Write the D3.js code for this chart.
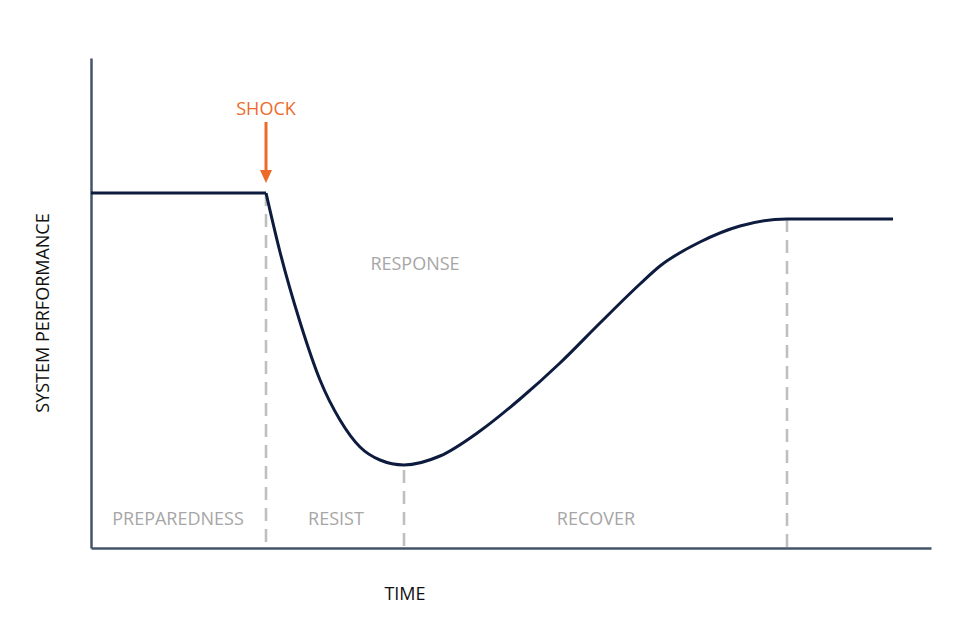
<!DOCTYPE html>
<html><head><meta charset="utf-8">
<script src="https://cdn.jsdelivr.net/npm/d3@7"></script>
<style>body{margin:0;background:#fff}text{font-family:"Open Sans",sans-serif}</style>
</head><body>
<svg id="c" width="978" height="644"></svg>
<script>
// time units (arbitrary), performance units (arbitrary)
const flatBefore = [[0,35.5],[17.5,35.5]];
const response = [[17.5,35.5],[18.9,29.6],[20.9,22.6],[22.9,16.8],[24.9,12.8],[26.9,10.1],[28.9,8.8],[31.3,8.3],[34.9,9.2],[38.9,11.7],[42.9,14.9],[46.9,18.5],[50.9,22.5],[54.9,26.4],[56.9,28.2],[60.9,30.6],[64.9,32.2],[69.6,32.9],[80.2,32.9]];
const phaseMarks = [17.5, 31.3, 69.6];
const phaseLabels = [{t:"PREPAREDNESS",x:8.7},{t:"RESIST",x:24.5},{t:"RECOVER",x:50.5}];
const shockT = 17.5;

const svg = d3.select("#c");
const x = d3.scaleLinear().domain([0,84]).range([91,931]);
const y = d3.scaleLinear().domain([0,49]).range([548,58]);

const axisColor = "#44546a";
svg.append("g").attr("transform","translate(0,548)")
  .call(d3.axisBottom(x).ticks(0).tickSize(0).tickSizeOuter(0))
  .call(g=>g.select(".domain").attr("stroke",axisColor).attr("stroke-width",2.5));
svg.append("g").attr("transform","translate(91,0)")
  .call(d3.axisLeft(y).ticks(0).tickSize(0).tickSizeOuter(0))
  .call(g=>g.select(".domain").attr("stroke",axisColor).attr("stroke-width",2.5));

// dashed phase lines
const lineY = t => {
  const p = response.find(d=>d[0]===t);
  return p ? p[1] : 35.5;
};
svg.selectAll(".ph").data(phaseMarks).join("line")
  .attr("x1",d=>x(d)).attr("x2",d=>x(d))
  .attr("y1",(d,i)=>y(lineY(d)) + (i===1?5:0)).attr("y2",y(0))
  .attr("stroke","#bfbfbf").attr("stroke-width",2.6).attr("stroke-dasharray","13,8");

const lineGen = d3.line().x(d=>x(d[0])).y(d=>y(d[1]));
svg.append("path").attr("d",lineGen(flatBefore)).attr("fill","none")
  .attr("stroke","#0d1b3e").attr("stroke-width",3);
svg.append("path").attr("d",lineGen.curve(d3.curveMonotoneX)(response)).attr("fill","none")
  .attr("stroke","#0d1b3e").attr("stroke-width",3).attr("stroke-linejoin","round");

// labels
svg.selectAll(".pl").data(phaseLabels).join("text")
  .attr("x",d=>x(d.x)).attr("y",525).attr("text-anchor","middle")
  .attr("font-size",18).attr("fill","#a6a6a6").text(d=>d.t);
svg.append("text").attr("x",415).attr("y",270).attr("text-anchor","middle")
  .attr("font-size",18).attr("fill","#a6a6a6").text("RESPONSE");

// shock
const orange = "#ee6a2b";
svg.append("text").attr("x",x(shockT)).attr("y",115).attr("text-anchor","middle")
  .attr("font-size",18).attr("fill",orange).text("SHOCK");
svg.append("line").attr("x1",x(shockT)).attr("x2",x(shockT)).attr("y1",122).attr("y2",172)
  .attr("stroke",orange).attr("stroke-width",3);
svg.append("path").attr("d",`M${x(shockT)-6},170 L${x(shockT)+6},170 L${x(shockT)},183 Z`).attr("fill",orange);

// axis titles
svg.append("text").attr("x",405).attr("y",600).attr("text-anchor","middle")
  .attr("font-size",18).attr("fill","#111").text("TIME");
svg.append("text").attr("transform","translate(49,313) rotate(-90)").attr("text-anchor","middle")
  .attr("font-size",18).attr("fill","#111").text("SYSTEM PERFORMANCE");
</script>
</body></html>
